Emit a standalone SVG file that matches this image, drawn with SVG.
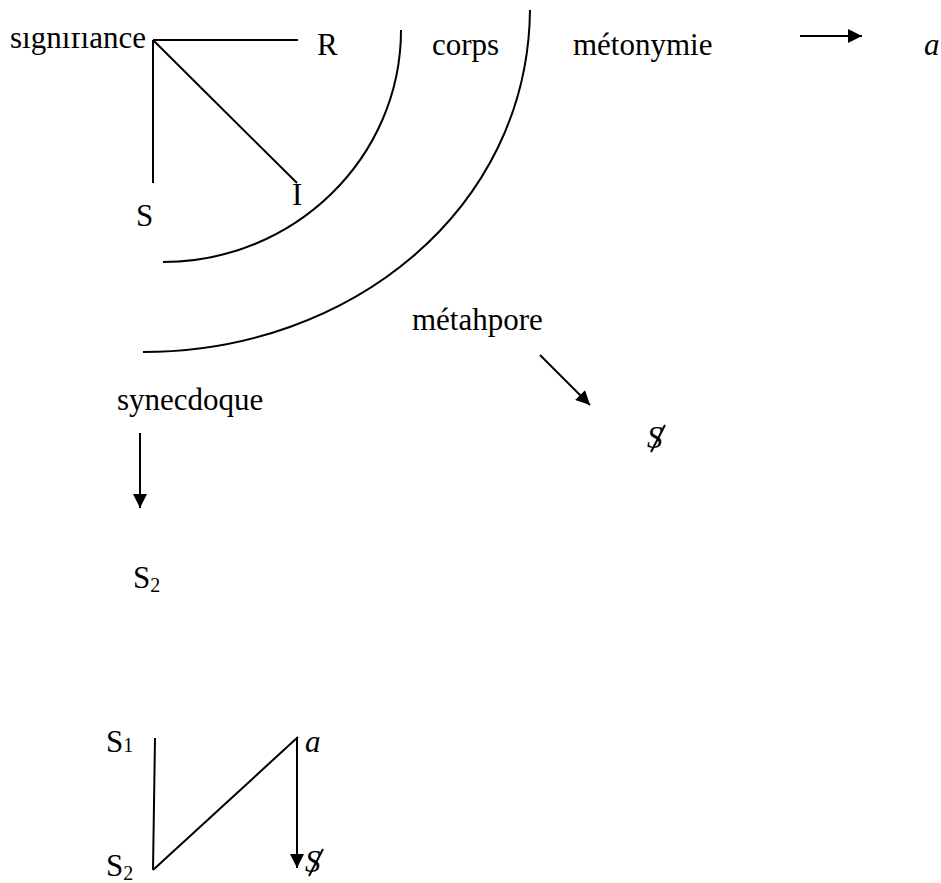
<svg xmlns="http://www.w3.org/2000/svg" width="941" height="883" viewBox="0 0 941 883">
<style>
text{font-family:'Liberation Serif','Times New Roman',Tinos,'DejaVu Serif',serif;font-size:31px;fill:#000}
.it{font-style:italic}
.ln{stroke:#000;stroke-width:2;fill:none}
.sub{font-size:20px}
</style>
<defs>
<marker id="ah" viewBox="0 0 10 10" refX="10" refY="5" markerWidth="15" markerHeight="14" markerUnits="userSpaceOnUse" orient="auto"><path d="M0,0 L10,5 L0,10 z" fill="#000"/></marker>
<clipPath id="topclip"><rect x="0" y="33" width="941" height="850"/></clipPath>
</defs>
<rect width="941" height="883" fill="#fff"/>
<g font-family="Liberation Serif, Times New Roman, serif">
<g id="signifiance"><text x="10" y="48" clip-path="url(#topclip)">signifiance</text></g>
<g id="R"><text x="317" y="55">R</text></g>
<g id="S"><text x="136" y="226">S</text></g>
<g id="I"><text x="292" y="205">I</text></g>
<g id="corps"><text x="432" y="55">corps</text></g>
<g id="metonymie"><text x="573" y="55">métonymie</text></g>
<g id="a-top"><text class="it" x="924" y="55">a</text></g>
<g id="metahpore"><text x="412" y="330">métahpore</text></g>
<g id="barS-1"><text class="it" x="647" y="448">S</text><line class="ln" x1="651" y1="452" x2="665" y2="425" stroke-width="1.5"/></g>
<g id="synecdoque"><text x="117" y="410">synecdoque</text></g>
<g id="S2-a"><text x="133" y="588">S<tspan class="sub" dy="4">2</tspan></text></g>
<g id="S1"><text x="106" y="752">S<tspan class="sub">1</tspan></text></g>
<g id="S2-b"><text x="106" y="876">S<tspan class="sub" dy="4">2</tspan></text></g>
<g id="a-bottom"><text class="it" x="305" y="752">a</text></g>
<g id="barS-2"><text class="it" x="305" y="872">S</text><line class="ln" x1="309" y1="876" x2="323" y2="849" stroke-width="1.5"/></g>
</g>
<g id="connectors">
<line class="ln" x1="153" y1="40" x2="298" y2="40"/>
<line class="ln" x1="153" y1="40" x2="153" y2="183"/>
<line class="ln" x1="153" y1="40" x2="297" y2="183"/>
<path class="ln" d="M401,30 C401,158 294,262 163,262"/>
<path class="ln" d="M530,10 C528,210 350,352 143,352"/>
<line class="ln" x1="800" y1="36" x2="862" y2="36" stroke-width="3" marker-end="url(#ah)"/>
<line class="ln" x1="540" y1="355" x2="590" y2="405" stroke-width="2.5" marker-end="url(#ah)"/>
<line class="ln" x1="140" y1="433" x2="140" y2="508" stroke-width="2.5" marker-end="url(#ah)"/>
<line class="ln" x1="155" y1="738" x2="153" y2="870"/>
<line class="ln" x1="153" y1="870" x2="298" y2="737"/>
<line class="ln" x1="297" y1="737" x2="297" y2="868" marker-end="url(#ah)"/>
</g>
</svg>
